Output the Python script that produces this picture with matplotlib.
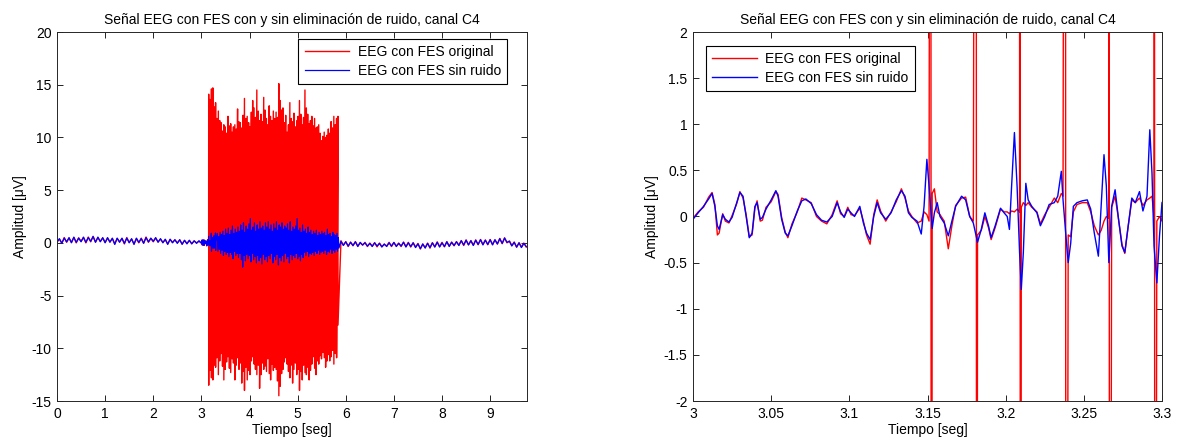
import matplotlib
matplotlib.use("Agg")
import matplotlib.pyplot as plt
import numpy as np
from matplotlib.ticker import FuncFormatter, MultipleLocator

plt.rcParams["font.family"] = ["Liberation Sans", "DejaVu Sans"]
plt.rcParams["axes.unicode_minus"] = False

TITLE = "Señal EEG con FES con y sin eliminación de ruido, canal C4"
LABELS = ["EEG con FES original", "EEG con FES sin ruido"]

# quiet segments, sampled every 50 ms
pre_t0, post_t0, quiet_dt = 0.0, 5.90, 0.05
pre_orig = [0.10, 0.35, -0.02, 0.50, 0.05, 0.45, 0.05, 0.50, 0.00, 0.48,
            0.15, 0.50, 0.00, 0.55, 0.10, 0.62, 0.08, 0.50, 0.15, 0.45,
            0.05, 0.45, 0.10, 0.40, -0.10, 0.42, 0.10, 0.40, -0.10, 0.50,
            0.05, 0.35, -0.10, 0.40, 0.00, 0.45, -0.02, 0.55, 0.05, 0.42,
            0.10, 0.45, 0.10, 0.35, 0.05, 0.30, -0.10, 0.32, 0.05, 0.28,
            0.00, 0.28, -0.10, 0.22, -0.05, 0.22, -0.08, 0.18, 0.00, 0.15]
pre_clean = [0.05, 0.40, -0.05, 0.45, 0.10, 0.50, 0.00, 0.55, 0.05, 0.45,
             0.10, 0.55, 0.05, 0.50, 0.15, 0.60, 0.05, 0.55, 0.10, 0.50,
             0.00, 0.50, 0.05, 0.45, -0.15, 0.45, 0.05, 0.45, -0.05, 0.45,
             0.00, 0.40, -0.15, 0.45, 0.05, 0.40, -0.05, 0.50, 0.10, 0.45,
             0.15, 0.50, 0.05, 0.40, 0.00, 0.35, -0.15, 0.35, 0.00, 0.30,
             -0.05, 0.30, -0.15, 0.25, -0.10, 0.25, -0.10, 0.20, -0.05, 0.20]
post_orig = [0.20, -0.22, 0.12, -0.35, 0.08, -0.28, 0.12, -0.30, 0.00, -0.22,
             0.05, -0.35, -0.02, -0.30, 0.02, -0.38, -0.02, -0.35, -0.15, -0.30,
             0.05, -0.35, 0.02, -0.30, -0.02, -0.35, 0.08, -0.35, 0.05, -0.40,
             0.02, -0.40, -0.05, -0.58, -0.12, -0.45, -0.02, -0.50, 0.02, -0.38,
             0.10, -0.35, 0.05, -0.38, 0.12, -0.30, 0.08, -0.28, 0.12, -0.22,
             0.22, -0.25, 0.28, -0.18, 0.22, -0.22, 0.28, -0.18, 0.32, -0.15,
             0.28, -0.18, 0.32, -0.15, 0.28, -0.12, 0.42, -0.08, 0.48, 0.00,
             0.18, -0.25, 0.08, -0.42, 0.02, -0.40, -0.02, -0.40]
post_clean = [0.15, -0.25, 0.10, -0.30, 0.05, -0.25, 0.10, -0.35, 0.05, -0.20,
              0.00, -0.30, -0.05, -0.35, 0.00, -0.30, -0.05, -0.40, -0.10, -0.35,
              0.00, -0.30, 0.05, -0.35, -0.05, -0.30, 0.05, -0.40, 0.00, -0.35,
              0.00, -0.45, -0.10, -0.55, -0.10, -0.50, -0.05, -0.45, 0.00, -0.40,
              0.05, -0.40, 0.00, -0.35, 0.10, -0.35, 0.05, -0.25, 0.10, -0.25,
              0.20, -0.20, 0.25, -0.20, 0.20, -0.25, 0.25, -0.15, 0.30, -0.20,
              0.25, -0.15, 0.30, -0.20, 0.30, -0.10, 0.40, -0.05, 0.45, 0.05,
              0.15, -0.30, 0.05, -0.40, 0.00, -0.45, -0.05, -0.35]

# detailed stretch 3.0 - 3.3 s
t_detail = [3.0000, 3.0033, 3.0067, 3.0100, 3.0122, 3.0140, 3.0156, 3.0167, 3.0190, 3.0207,
            3.0230, 3.0250, 3.0280, 3.0300, 3.0320, 3.0340, 3.0360, 3.0378, 3.0396, 3.0410,
            3.0430, 3.0444, 3.0467, 3.0500, 3.0530, 3.0544, 3.0567, 3.0590, 3.0607, 3.0633,
            3.0667, 3.0696, 3.0722, 3.0756, 3.0790, 3.0822, 3.0856, 3.0890, 3.0922, 3.0944,
            3.0967, 3.0990, 3.1011, 3.1033, 3.1067, 3.1090, 3.1110, 3.1133, 3.1156, 3.1178,
            3.1200, 3.1233, 3.1267, 3.1300, 3.1333, 3.1356, 3.1378, 3.1400, 3.1433, 3.1460,
            3.1478, 3.1496, 3.1510, 3.1530, 3.1544, 3.1562, 3.1580, 3.1607, 3.1633, 3.1656,
            3.1680, 3.1718, 3.1744, 3.1770, 3.1793, 3.1820, 3.1844, 3.1867, 3.1890, 3.1907,
            3.1933, 3.1967, 3.1990, 3.2010, 3.2024, 3.2038, 3.2056, 3.2073, 3.2089, 3.2100,
            3.2113, 3.2129, 3.2144, 3.2167, 3.2200, 3.2222, 3.2250, 3.2278, 3.2311, 3.2333,
            3.2356, 3.2367, 3.2384, 3.2400, 3.2416, 3.2433, 3.2456, 3.2490, 3.2522, 3.2544,
            3.2567, 3.2593, 3.2611, 3.2629, 3.2644, 3.2660, 3.2678, 3.2700, 3.2722, 3.2744,
            3.2762, 3.2784, 3.2807, 3.2829, 3.2856, 3.2878, 3.2904, 3.2922, 3.2936, 3.2949,
            3.2967, 3.2984, 3.3000]
detail_clean = [-0.03, 0.04, 0.11, 0.19, 0.25, 0.11, -0.10, -0.14, 0.02, -0.03,
                -0.06, -0.01, 0.15, 0.26, 0.22, 0.00, -0.23, -0.18, 0.11, 0.15,
                -0.03, -0.01, 0.08, 0.18, 0.28, 0.22, -0.03, -0.18, -0.21, -0.10,
                0.06, 0.17, 0.19, 0.14, 0.02, -0.04, -0.06, 0.00, 0.15, 0.05,
                -0.01, 0.08, 0.04, 0.00, 0.11, -0.07, -0.18, -0.25, 0.00, 0.15,
                0.04, -0.03, 0.04, 0.18, 0.28, 0.22, 0.04, -0.01, -0.05, -0.19,
                0.11, 0.62, 0.33, -0.13, 0.04, 0.15, 0.00, -0.07, -0.21, -0.05,
                0.11, 0.22, 0.18, 0.00, -0.07, -0.28, -0.14, 0.04, -0.10, -0.23,
                -0.10, 0.09, 0.04, 0.00, -0.14, 0.33, 0.91, 0.33, -0.39, -0.79,
                -0.39, 0.36, 0.18, 0.11, 0.04, -0.10, 0.00, 0.13, 0.15, 0.22,
                0.49, 0.18, -0.18, -0.50, -0.29, 0.11, 0.15, 0.17, 0.18, 0.08,
                -0.18, -0.43, 0.11, 0.67, 0.33, -0.50, 0.11, 0.29, -0.03, -0.32,
                -0.39, -0.10, 0.20, 0.15, 0.27, 0.06, 0.22, 0.94, 0.47, -0.32,
                -0.72, -0.21, 0.15]
detail_orig = [-0.02, 0.05, 0.10, 0.21, 0.26, 0.13, -0.20, -0.18, 0.03, -0.05,
               -0.07, 0.01, 0.14, 0.27, 0.20, 0.02, -0.22, -0.20, 0.09, 0.17,
               -0.05, -0.04, 0.10, 0.16, 0.27, 0.24, -0.01, -0.17, -0.23, -0.08,
               0.05, 0.20, 0.18, 0.15, 0.00, -0.05, -0.08, 0.02, 0.17, 0.03,
               0.00, 0.10, 0.02, 0.01, 0.09, -0.05, -0.20, -0.30, 0.02, 0.18,
               0.06, -0.05, 0.05, 0.16, 0.30, 0.20, 0.06, 0.00, -0.07, -0.05,
               0.05, 0.02, -0.05, 0.25, 0.30, 0.05, 0.02, -0.05, -0.35, -0.10,
               0.12, 0.20, 0.21, 0.00, -0.05, -0.20, -0.15, 0.00, -0.12, -0.25,
               -0.12, 0.08, 0.05, 0.05, 0.03, 0.06, 0.05, 0.08, 0.05, 0.10,
               0.15, 0.12, 0.15, 0.10, 0.05, -0.08, 0.02, 0.10, 0.20, 0.15,
               0.25, 0.22, -0.15, -0.20, -0.22, 0.05, 0.13, 0.15, 0.15, 0.05,
               -0.10, -0.20, -0.15, -0.05, 0.00, -0.02, 0.10, 0.22, -0.03, -0.30,
               -0.40, -0.10, 0.18, 0.15, 0.20, 0.12, 0.18, 0.20, 0.22, 0.00,
               -0.05, 0.00, -0.05]

# FES stimulation artefacts: pulse time [s], positive and negative peak [uV]
pulse_t = [3.152, 3.181, 3.209, 3.238, 3.266, 3.295, 3.323,
           3.352, 3.381, 3.409, 3.438, 3.466, 3.495, 3.523,
           3.552, 3.581, 3.609, 3.638, 3.666, 3.695, 3.723,
           3.752, 3.781, 3.809, 3.838, 3.866, 3.895, 3.923,
           3.952, 3.981, 4.009, 4.038, 4.066, 4.095, 4.123,
           4.152, 4.181, 4.209, 4.238, 4.266, 4.295, 4.323,
           4.352, 4.381, 4.409, 4.438, 4.466, 4.495, 4.523,
           4.552, 4.581, 4.609, 4.638, 4.666, 4.695, 4.723,
           4.752, 4.781, 4.809, 4.838, 4.866, 4.895, 4.923,
           4.952, 4.981, 5.009, 5.038, 5.066, 5.095, 5.123,
           5.152, 5.181, 5.209, 5.238, 5.266, 5.295, 5.323,
           5.352, 5.381, 5.409, 5.438, 5.466, 5.495, 5.523,
           5.552, 5.581, 5.609, 5.638, 5.666, 5.695, 5.723,
           5.752, 5.781, 5.809, 5.838]
pulse_hi = [14.1, 13.6, 14.6, 14.7, 12.9, 13.3, 11.8,
            12.5, 11.6, 11.4, 10.6, 11.2, 11.0, 10.4,
            12.0, 11.1, 11.3, 10.5, 11.0, 11.2, 10.8,
            12.7, 11.5, 11.4, 10.9, 12.1, 13.7, 11.8,
            12.0, 11.4, 11.0, 12.4, 13.5, 12.8, 11.9,
            14.5, 12.5, 11.6, 12.2, 11.5, 13.8, 12.6,
            11.8, 11.2, 13.0, 12.0, 11.6, 12.5, 11.8,
            12.4, 11.9, 15.1, 13.5, 12.6, 12.8, 11.4,
            12.1, 10.5, 11.2, 13.3, 11.8, 11.5, 12.3,
            11.0, 11.6, 12.0, 13.5, 12.2, 11.2, 11.9,
            14.5, 12.8, 12.2, 11.3, 11.6, 12.0, 11.1,
            11.8, 10.9, 11.0, 11.2, 10.4, 9.7, 10.1,
            10.5, 10.0, 10.2, 10.8, 10.4, 11.5, 10.9,
            12.0, 11.2, 11.8, 12.0]
pulse_lo = [-13.5, -12.1, -12.8, -13.0, -11.6, -11.8, -10.9,
            -12.5, -11.2, -10.5, -11.7, -13.0, -12.0, -11.3,
            -10.8, -11.9, -12.3, -11.0, -11.4, -13.0, -11.6,
            -10.9, -12.0, -11.4, -13.3, -12.2, -14.0, -11.8,
            -13.0, -12.1, -12.5, -11.2, -10.8, -11.5, -12.0,
            -12.5, -11.6, -13.8, -12.5, -11.4, -12.0, -11.7,
            -12.2, -11.0, -12.4, -13.0, -11.5, -12.1, -11.8,
            -12.0, -13.1, -14.5, -13.6, -12.4, -12.0, -11.3,
            -10.9, -11.5, -12.2, -12.8, -11.6, -13.3, -12.0,
            -11.4, -12.5, -12.0, -14.0, -12.2, -13.0, -11.6,
            -12.3, -12.5, -11.8, -13.0, -12.1, -11.5, -10.8,
            -11.9, -12.5, -11.2, -11.5, -10.7, -11.0, -10.4,
            -10.9, -11.8, -11.2, -10.6, -11.2, -10.8, -10.2,
            -11.5, -10.5, -10.9, -7.8]

# residual after artefact removal, per stimulation period from 3.32 s on
clean_hi = [0.9, 0.6, 1.0, 0.8, 1.1, 0.7, 1.3, 0.9,
            1.4, 0.8, 1.2, 1.6, 0.9, 1.3, 1.0,
            1.5, 1.1, 1.7, 1.2, 1.9, 1.0, 1.6,
            1.3, 1.8, 2.3, 1.2, 1.5, 1.9, 1.1,
            1.7, 1.3, 2.0, 1.4, 1.6, 1.2, 1.9,
            1.5, 2.0, 1.3, 1.7, 1.1, 1.8, 1.4,
            2.0, 1.2, 1.7, 1.5, 1.9, 1.3, 1.6,
            1.4, 1.8, 1.2, 2.0, 1.1, 1.5, 1.3,
            1.6, 2.3, 1.2, 1.4, 1.0, 1.7, 1.1,
            1.3, 0.9, 1.5, 1.0, 1.2, 0.8, 1.1,
            0.9, 1.2, 0.7, 1.0, 0.8, 1.1, 0.9,
            1.0, 0.7, 1.3, 0.8, 0.9, 0.6, 1.0,
            0.8, 0.7, 0.9, 0.5]
clean_lo = [-0.8, -0.6, -1.0, -0.7, -1.2, -0.8, -1.1, -0.9,
            -1.3, -0.9, -1.1, -1.5, -0.8, -1.2, -1.0,
            -1.4, -1.0, -1.6, -2.3, -1.2, -1.7, -1.1,
            -1.5, -1.2, -1.8, -1.0, -1.6, -1.3, -1.9,
            -1.2, -1.7, -1.4, -2.0, -1.1, -1.6, -1.3,
            -1.8, -1.2, -1.5, -1.0, -1.9, -1.3, -1.6,
            -1.1, -2.1, -1.4, -1.7, -1.2, -1.8, -1.0,
            -1.5, -1.3, -1.9, -1.1, -1.6, -1.2, -1.4,
            -1.0, -1.5, -1.3, -1.7, -1.1, -1.4, -0.9,
            -1.2, -0.8, -1.3, -1.0, -1.1, -0.9, -1.2,
            -0.8, -1.0, -0.7, -1.1, -0.9, -0.8, -1.0,
            -0.7, -1.1, -0.8, -0.9, -0.6, -1.0, -0.7,
            -0.9, -0.6, -0.8, -0.5]


def build_signals():
    pre_t = pre_t0 + quiet_dt * np.arange(len(pre_orig))
    post_t = post_t0 + quiet_dt * np.arange(len(post_orig))
    pt = np.asarray(pulse_t)

    # original: quiet parts + detailed stretch + biphasic artefact at each pulse
    t_o = np.concatenate([pre_t, t_detail, pt, pt + 0.0005, post_t])
    y_o = np.concatenate([pre_orig, detail_orig, pulse_hi, pulse_lo, post_orig])
    order = np.argsort(t_o, kind="stable")

    # cleaned: quiet parts + detailed stretch + residual band during stimulation
    late = pt[pt > t_detail[-1]]
    t_c = np.concatenate([pre_t, t_detail, late + 0.008, late + 0.020, post_t])
    y_c = np.concatenate([pre_clean, detail_clean, clean_hi, clean_lo, post_clean])
    order_c = np.argsort(t_c, kind="stable")
    return t_o[order], y_o[order], t_c[order_c], y_c[order_c]


t_orig, eeg_orig, t_clean, eeg_clean = build_signals()

FS = 10


def style_axes(ax):
    ax.set_title(TITLE, fontsize=FS, pad=6)
    ax.set_xlabel("Tiempo [seg]", fontsize=FS, labelpad=2)
    ax.set_ylabel("Amplitud [\u03bcV]", fontsize=FS, labelpad=3)
    ax.tick_params(direction="in", top=True, right=True, length=4.5, width=0.6,
                   labelsize=FS, pad=4)
    for s in ax.spines.values():
        s.set_linewidth(0.7)
        s.set_color("#262626")
    ax.xaxis.set_major_formatter(FuncFormatter(lambda v, p: f"{v:g}"))
    ax.yaxis.set_major_formatter(FuncFormatter(lambda v, p: f"{v:g}"))


def add_legend(ax, anchor, loc):
    leg = ax.legend(loc=loc, bbox_to_anchor=anchor, bbox_transform=fig.transFigure,
                    fontsize=FS, fancybox=False, framealpha=1, edgecolor="black",
                    handlelength=3.2, borderaxespad=0, borderpad=0.45,
                    labelspacing=0.35, handletextpad=0.6)
    leg.get_frame().set_linewidth(0.8)


fig = plt.figure(figsize=(11.86, 4.44), dpi=100)
ax1 = fig.add_axes([57 / 1186, 43 / 444, 470 / 1186, 369 / 444])
ax2 = fig.add_axes([693 / 1186, 43 / 444, 469 / 1186, 369 / 444])

ax1.plot(t_orig, eeg_orig, color="red", lw=1.0, label=LABELS[0])
ax1.plot(t_clean, eeg_clean, color="blue", lw=0.9, label=LABELS[1])
ax1.set_xlim(0, 9.7656)
ax1.set_ylim(-15, 20)
ax1.xaxis.set_major_locator(MultipleLocator(1))
ax1.yaxis.set_major_locator(MultipleLocator(5))
style_axes(ax1)
add_legend(ax1, (507 / 1186, 1 - 39 / 444), "upper right")

ax2.plot(t_orig, eeg_orig, color="red", lw=1.0, label=LABELS[0])
ax2.plot(t_clean, eeg_clean, color="blue", lw=1.0, label=LABELS[1])
ax2.set_xlim(3.0, 3.3)
ax2.set_ylim(-2, 2)
ax2.xaxis.set_major_locator(MultipleLocator(0.05))
ax2.yaxis.set_major_locator(MultipleLocator(0.5))
style_axes(ax2)
add_legend(ax2, (706 / 1186, 1 - 46 / 444), "upper left")

fig.savefig("out.png", dpi=100)
